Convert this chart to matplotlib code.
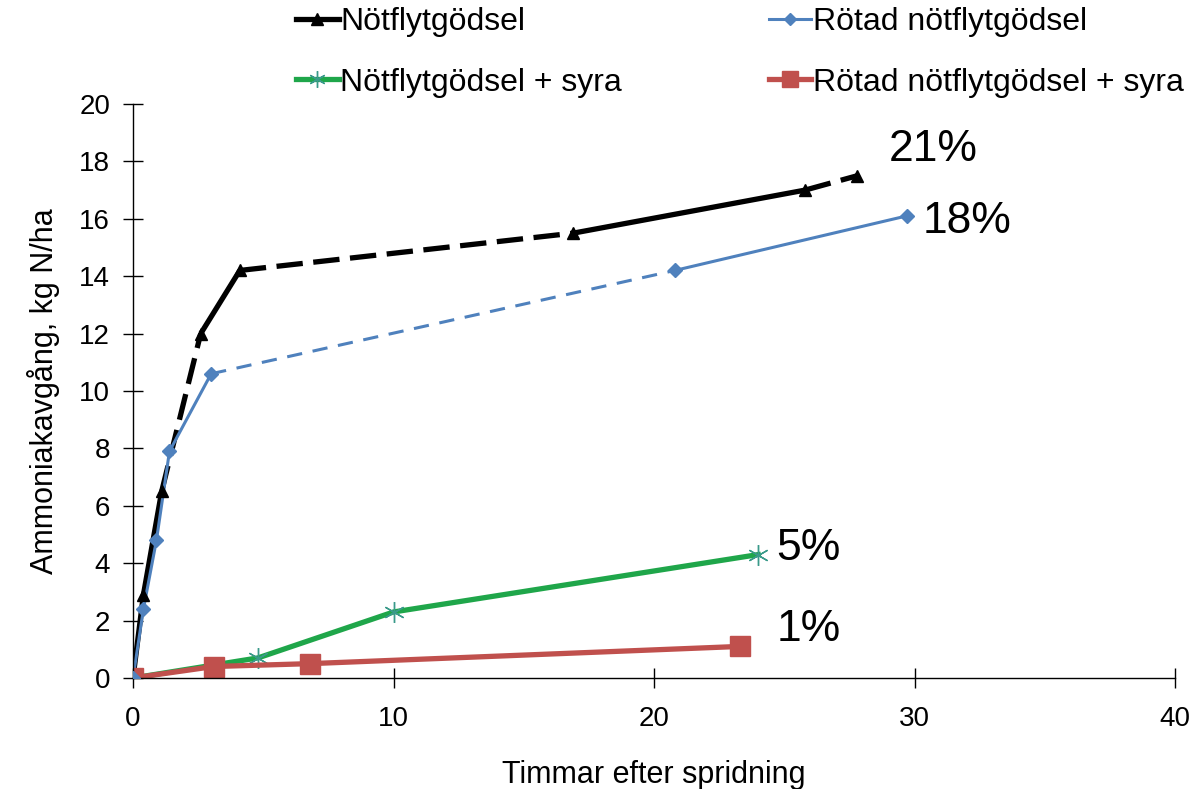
import matplotlib.pyplot as plt
from matplotlib.lines import Line2D

plt.rcParams['font.family'] = ['Liberation Sans', 'DejaVu Sans']

# hours after spreading / ammonia loss (kg N/ha)
x_not = [0, 0.4, 1.1, 2.6, 4.1, 16.9, 25.8, 27.8]
y_not = [0, 2.9, 6.5, 12.0, 14.2, 15.5, 17.0, 17.5]
dash_not = [False, False, True, False, True, False, True]

x_rot = [0, 0.4, 0.9, 1.4, 3.0, 20.8, 29.7]
y_rot = [0, 2.4, 4.8, 7.9, 10.6, 14.2, 16.1]
dash_rot = [False, False, False, False, True, False]

x_syra = [0, 4.8, 10.0, 24.0]
y_syra = [0, 0.7, 2.3, 4.3]

x_rsyra = [0, 3.1, 6.8, 23.3]
y_rsyra = [0, 0.4, 0.5, 1.1]

labels = ['Nötflytgödsel', 'Rötad nötflytgödsel',
          'Nötflytgödsel + syra', 'Rötad nötflytgödsel + syra']
pct = ['21%', '18%', '5%', '1%']
pct_pos = [(29.0, 18.4), (30.3, 15.9), (24.7, 4.5), (24.7, 1.7)]

black = 'black'
blue = '#4F81BD'
green = '#1FA64A'
red = '#C0504D'

fig = plt.figure(figsize=(11.95, 7.89), dpi=100)
ax = fig.add_axes([0.1113, 0.1407, 0.872, 0.7275])


def seg_line(xs, ys, dashed, color, lw, dashes):
    for i in range(len(xs) - 1):
        ls = (0, dashes) if dashed[i] else '-'
        ax.plot(xs[i:i + 2], ys[i:i + 2], color=color, lw=lw, ls=ls,
                solid_capstyle='butt', dash_capstyle='butt', zorder=2)


seg_line(x_not, y_not, dash_not, black, 3.8, (5, 2))
seg_line(x_rot, y_rot, dash_rot, blue, 2.2, (5, 3.5))
ax.plot(x_not, y_not, ls='none', marker='^', ms=9, color=black, zorder=3)
ax.plot(x_rot, y_rot, ls='none', marker='D', ms=7, color=blue, zorder=3)
ax.plot(x_syra, y_syra, color=green, lw=3.8, marker=(6, 2, 0), ms=15,
        mec='#3a9a8a', mew=1.0, zorder=2)
ax.plot(x_rsyra, y_rsyra, color=red, lw=3.8, marker='s', ms=15, zorder=2)

for t, (px, py) in zip(pct, pct_pos):
    ax.text(px, py, t, fontsize=32, ha='left', va='center')

ax.set_xlim(0, 40)
ax.set_ylim(0, 20)
ax.set_xticks(range(0, 41, 10))
ax.set_yticks(range(0, 21, 2))
ax.spines['top'].set_visible(False)
ax.spines['right'].set_visible(False)
for s in ['left', 'bottom']:
    ax.spines[s].set_linewidth(1.0)
ax.tick_params(direction='inout', length=15, width=1.0, labelsize=20)
ax.tick_params(axis='y', pad=9)
ax.tick_params(axis='x', pad=13)
ax.set_xlabel('Timmar efter spridning', fontsize=22, labelpad=20)
ax.set_ylabel('Ammoniakavgång, kg N/ha', fontsize=22, labelpad=14)

handles = [
    Line2D([], [], color=black, lw=3.8, marker='^', ms=9),
    Line2D([], [], color=green, lw=3.8, marker=(6, 2, 0), ms=12, mec='#3a9a8a'),
    Line2D([], [], color=blue, lw=2.2, marker='D', ms=6),
    Line2D([], [], color=red, lw=3.8, marker='s', ms=11),
]
fig.legend(handles, [labels[0], labels[2], labels[1], labels[3]],
           loc='upper left', bbox_to_anchor=(0.24, 1.003),
           ncol=2, frameon=False, fontsize=23, handlelength=1.32,
           handletextpad=0.06, columnspacing=4.6, labelspacing=0.95,
           borderaxespad=0, borderpad=0.3)

fig.savefig('out.png', dpi=100)
